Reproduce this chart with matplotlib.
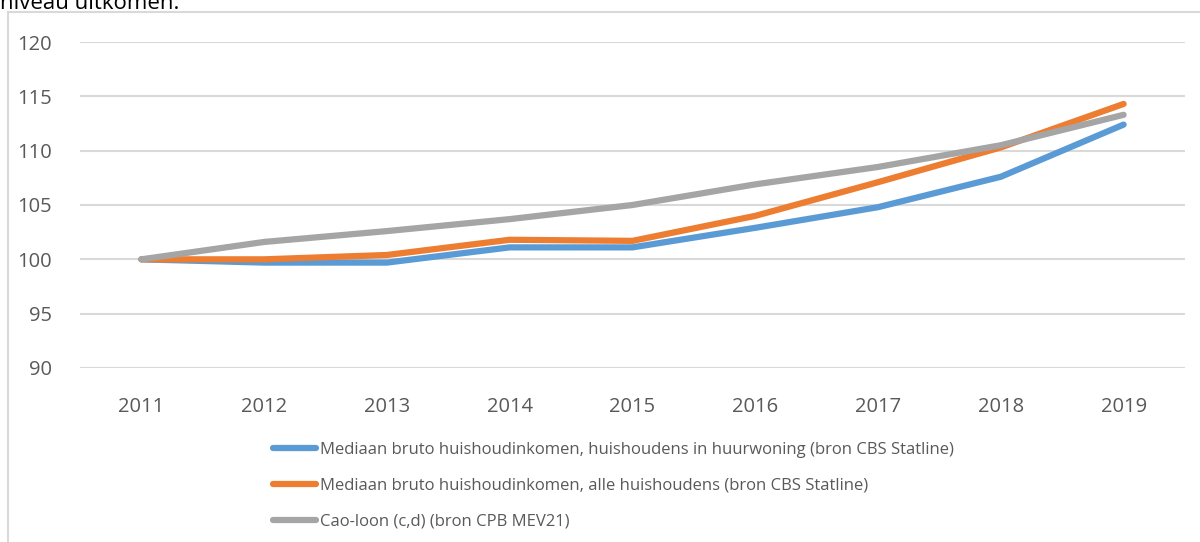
import matplotlib.pyplot as plt
from matplotlib.lines import Line2D

# data
jaren = ["2011", "2012", "2013", "2014", "2015", "2016", "2017", "2018", "2019"]
huurwoning = [100.0, 99.7, 99.7, 101.1, 101.1, 102.9, 104.8, 107.6, 112.4]
alle_huishoudens = [100.0, 100.0, 100.4, 101.8, 101.7, 104.0, 107.1, 110.3, 114.3]
cao_loon = [100.0, 101.6, 102.6, 103.7, 105.0, 106.9, 108.5, 110.5, 113.3]
labels = [
    "Mediaan bruto huishoudinkomen, huishoudens in huurwoning (bron CBS Statline)",
    "Mediaan bruto huishoudinkomen, alle huishoudens (bron CBS Statline)",
    "Cao-loon (c,d) (bron CPB MEV21)",
]
kleuren = ["#5B9BD5", "#ED7D31", "#A5A5A5"]

plt.rcParams["font.family"] = ["Open Sans", "DejaVu Sans"]

W, H = 1200, 542
fig = plt.figure(figsize=(W / 100, H / 100), dpi=100)

# kaderlijnen van de grafiek
fig.add_artist(Line2D([8 / W, 8 / W], [0, 1 - 12 / H], color="#D9D9D9", lw=1.5))
fig.add_artist(Line2D([8 / W, 1], [1 - 12 / H, 1 - 12 / H], color="#D9D9D9", lw=1.5))

# afgesneden tekst bovenaan (ook in het origineel half zichtbaar)
fig.text(0, 1 - 9 / H, "niveau uitkomen.", fontsize=16, color="black",
         va="baseline", ha="left")

ax = fig.add_axes([80 / W, 1 - 368 / H, 1105 / W, 326 / H])
x = range(len(jaren))
for serie, kleur in zip([huurwoning, alle_huishoudens, cao_loon], kleuren):
    ax.plot(x, serie, color=kleur, lw=4.5, solid_capstyle="round", zorder=3)

ax.set_ylim(90, 120)
ax.set_xlim(-0.5, len(jaren) - 0.5)
ax.set_yticks(range(90, 121, 5))
ax.set_xticks(list(x))
ax.set_xticklabels(jaren)
ax.grid(axis="y", color="#D9D9D9", lw=1.5)
ax.set_axisbelow(True)
for s in ax.spines.values():
    s.set_visible(False)
ax.tick_params(length=0, labelsize=14.5, labelcolor="#595959")
ax.tick_params(axis="y", pad=20)
ax.tick_params(axis="x", pad=21)

handles = [Line2D([], [], color=k, lw=4.5, solid_capstyle="round") for k in kleuren]
fig.legend(handles, labels, loc="upper left", bbox_to_anchor=(258 / W, 1 - 427 / H),
           frameon=False, fontsize=12, labelcolor="#595959", handlelength=2.6,
           handletextpad=0.25, labelspacing=1.2)

fig.savefig("out.png", dpi=100)
